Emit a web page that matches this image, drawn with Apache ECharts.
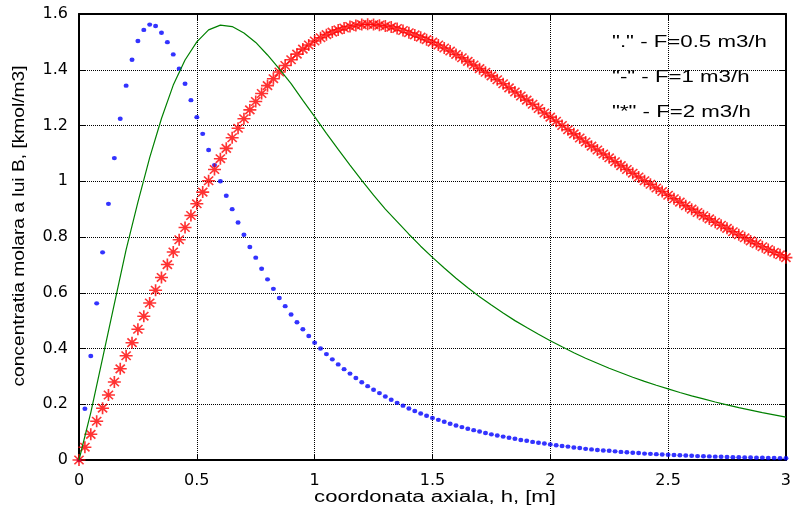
<!DOCTYPE html>
<html>
<head>
<meta charset="utf-8">
<script src="https://cdn.jsdelivr.net/npm/echarts@6/dist/echarts.min.js"></script>
<style>
html, body { margin: 0; padding: 0; background: #ffffff; }
#chart { width: 794px; height: 512px; }
</style>
</head>
<body>
<div id="chart"></div>
<script>
// Axial coordinate h [m]: marker sampling (0.025 m) and line sampling (0.05 m)
const hFine = [0,0.025,0.05,0.075,0.1,0.125,0.15,0.175,0.2,0.225,0.25,0.275,0.3,0.325,0.35,0.375,0.4,0.425,0.45,0.475,
  0.5,0.525,0.55,0.575,0.6,0.625,0.65,0.675,0.7,0.725,0.75,0.775,0.8,0.825,0.85,0.875,0.9,0.925,0.95,0.975,
  1,1.025,1.05,1.075,1.1,1.125,1.15,1.175,1.2,1.225,1.25,1.275,1.3,1.325,1.35,1.375,1.4,1.425,1.45,1.475,
  1.5,1.525,1.55,1.575,1.6,1.625,1.65,1.675,1.7,1.725,1.75,1.775,1.8,1.825,1.85,1.875,1.9,1.925,1.95,1.975,
  2,2.025,2.05,2.075,2.1,2.125,2.15,2.175,2.2,2.225,2.25,2.275,2.3,2.325,2.35,2.375,2.4,2.425,2.45,2.475,
  2.5,2.525,2.55,2.575,2.6,2.625,2.65,2.675,2.7,2.725,2.75,2.775,2.8,2.825,2.85,2.875,2.9,2.925,2.95,2.975,3];

const hCoarse = [0,0.05,0.1,0.15,0.2,0.25,0.3,0.35,0.4,0.45,0.5,0.55,0.6,0.65,0.7,0.75,0.8,0.85,0.9,0.95,
  1,1.05,1.1,1.15,1.2,1.25,1.3,1.35,1.4,1.45,1.5,1.55,1.6,1.65,1.7,1.75,1.8,1.85,1.9,1.95,
  2,2.05,2.1,2.15,2.2,2.25,2.3,2.35,2.4,2.45,2.5,2.55,2.6,2.65,2.7,2.75,2.8,2.85,2.9,2.95,3];

// Molar concentration of B [kmol/m3], F = 0.5 m3/h (dots, on hFine)
const cB_F05 = [0,0.184,0.373,0.562,0.745,0.919,1.083,1.224,1.343,1.436,
  1.503,1.543,1.562,1.557,1.533,1.499,1.455,1.404,1.350,1.291,
  1.230,1.170,1.112,1.058,1.000,0.948,0.900,0.852,0.808,0.764,
  0.726,0.686,0.648,0.614,0.581,0.552,0.522,0.494,0.469,0.445,
  0.421,0.400,0.380,0.361,0.343,0.326,0.310,0.294,0.279,0.265,
  0.252,0.240,0.228,0.216,0.205,0.195,0.185,0.176,0.167,0.159,
  0.151,0.144,0.137,0.130,0.124,0.118,0.112,0.107,0.102,0.097,
  0.092,0.088,0.084,0.080,0.076,0.072,0.069,0.065,0.062,0.059,
  0.056,0.053,0.050,0.048,0.045,0.043,0.040,0.038,0.036,0.034,
  0.033,0.031,0.029,0.028,0.026,0.025,0.023,0.022,0.021,0.020,
  0.019,0.018,0.017,0.016,0.015,0.014,0.0135,0.013,0.012,0.0115,
  0.011,0.0103,0.0098,0.0093,0.0088,0.0083,0.0079,0.0074,0.0070,0.0067,0.0063];

// F = 1 m3/h (solid line, on hCoarse)
const cB_F1 = [0,0.170,0.365,0.560,0.755,0.925,1.085,1.225,1.345,1.435,
  1.500,1.543,1.560,1.555,1.532,1.498,1.453,1.403,1.350,1.290,
  1.232,1.172,1.114,1.058,1.003,0.950,0.900,0.855,0.810,0.767,
  0.727,0.689,0.652,0.618,0.586,0.556,0.527,0.500,0.475,0.451,
  0.428,0.406,0.385,0.365,0.347,0.329,0.313,0.297,0.282,0.268,
  0.255,0.242,0.230,0.219,0.208,0.198,0.188,0.179,0.170,0.162,0.154];

// F = 2 m3/h (asterisks, on hFine)
const cB_F2 = [0,0.046,0.092,0.139,0.186,0.233,0.280,0.327,0.374,0.421,
  0.469,0.516,0.563,0.609,0.655,0.701,0.746,0.790,0.834,0.877,
  0.919,0.961,1.002,1.042,1.081,1.118,1.156,1.190,1.224,1.256,
  1.286,1.315,1.343,1.368,1.392,1.415,1.436,1.456,1.474,1.489,
  1.503,1.515,1.526,1.535,1.543,1.550,1.555,1.559,1.562,1.563,
  1.562,1.560,1.557,1.553,1.548,1.541,1.533,1.525,1.517,1.508,
  1.499,1.489,1.478,1.467,1.455,1.443,1.430,1.417,1.404,1.391,
  1.378,1.364,1.350,1.335,1.320,1.306,1.291,1.276,1.261,1.245,
  1.230,1.215,1.200,1.185,1.170,1.155,1.141,1.126,1.112,1.098,
  1.084,1.070,1.056,1.042,1.029,1.015,1.002,0.989,0.976,0.963,
  0.950,0.937,0.925,0.912,0.900,0.888,0.876,0.865,0.853,0.842,
  0.831,0.819,0.808,0.797,0.786,0.776,0.765,0.755,0.745,0.736,0.726];

// Axis ranges and texts
const xRange = { min: 0, max: 3, step: 0.5 };
const yRange = { min: 0, max: 1.6, step: 0.2 };
const xTitle = 'coordonata axiala, h, [m]';
const yTitle = 'concentratia molara a lui B, [kmol/m3]';
const legendLines = ['"." - F=0.5 m3/h', '"-" - F=1 m3/h', '"*" - F=2 m3/h'];

const pairs = (xs, ys) => xs.map((x, i) => [x, ys[i]]);

const tickFont = { fontFamily: '"DejaVu Sans", sans-serif', fontSize: 16, color: '#000' };
const frameLine = () => ({ show: true, onZero: false, lineStyle: { color: '#000', width: 2 } });
const innerTick = () => ({ show: true, inside: true, length: 6, lineStyle: { color: '#000', width: 1 } });
const gridDots = () => ({ show: true, lineStyle: { color: '#000', width: 1, type: 'dotted', opacity: 1 } });
const textFont = '16px "Liberation Sans", Arial, sans-serif';

// MATLAB-like '*' marker: eight-armed asterisk drawn with strokes
const asterisk = 'path://M6 0V12M0 6H12M1.76 1.76L10.24 10.24M1.76 10.24L10.24 1.76';

const chart = echarts.init(document.getElementById('chart'), null, { renderer: 'canvas' });

const titleStyle = (text, align) => ({
  text: text, font: textFont, fill: '#000',
  textAlign: align, align: align, textVerticalAlign: 'middle', verticalAlign: 'middle'
});

chart.setOption({
  animation: false,
  backgroundColor: '#ffffff',
  grid: { left: 79, right: 8, top: 14, bottom: 52, containLabel: false },
  xAxis: [
    {
      type: 'value', position: 'bottom', min: xRange.min, max: xRange.max, interval: xRange.step,
      axisLine: frameLine(), axisTick: innerTick(), splitLine: gridDots(),
      axisLabel: Object.assign({ show: true, margin: 13 }, tickFont)
    },
    {
      type: 'value', position: 'top', min: xRange.min, max: xRange.max, interval: xRange.step,
      axisLine: frameLine(), axisTick: innerTick(), splitLine: { show: false }, axisLabel: { show: false }
    }
  ],
  yAxis: [
    {
      type: 'value', position: 'left', min: yRange.min, max: yRange.max, interval: yRange.step,
      axisLine: frameLine(), axisTick: innerTick(), splitLine: gridDots(),
      axisLabel: Object.assign({ show: true, margin: 11 }, tickFont)
    },
    {
      type: 'value', position: 'right', min: yRange.min, max: yRange.max, interval: yRange.step,
      axisLine: frameLine(), axisTick: innerTick(), splitLine: { show: false }, axisLabel: { show: false }
    }
  ],
  series: [
    {
      name: 'F=0.5', type: 'scatter', xAxisIndex: 0, yAxisIndex: 0,
      data: pairs(hFine, cB_F05),
      symbol: 'circle', symbolSize: [5, 4.4], clip: false,
      itemStyle: { color: '#0000ff' },
      emphasis: { disabled: true }, silent: true
    },
    {
      name: 'F=1', type: 'line', xAxisIndex: 0, yAxisIndex: 0,
      data: pairs(hCoarse, cB_F1),
      showSymbol: false, symbol: 'none', smooth: false,
      lineStyle: { color: '#008000', width: 1.2 },
      emphasis: { disabled: true }, silent: true
    },
    {
      name: 'F=2', type: 'scatter', xAxisIndex: 0, yAxisIndex: 0,
      data: pairs(hFine, cB_F2),
      symbol: asterisk, symbolSize: [13, 12], clip: false,
      itemStyle: { color: '#ff0000', borderColor: '#ff0000', borderWidth: 1.6 },
      emphasis: { disabled: true }, silent: true
    }
  ],
  graphic: [
    { type: 'text', silent: true, x: 435, y: 498, scaleX: 1.38, style: titleStyle(xTitle, 'center') },
    { type: 'text', silent: true, x: 20, y: 226, rotation: Math.PI / 2, scaleX: 1.2, style: titleStyle(yTitle, 'center') }
  ].concat(legendLines.map((t, i) => ({
    type: 'text', silent: true, x: 612, y: 42.5 + i * 35, scaleX: 1.39, style: titleStyle(t, 'left')
  })))
});
</script>
</body>
</html>
